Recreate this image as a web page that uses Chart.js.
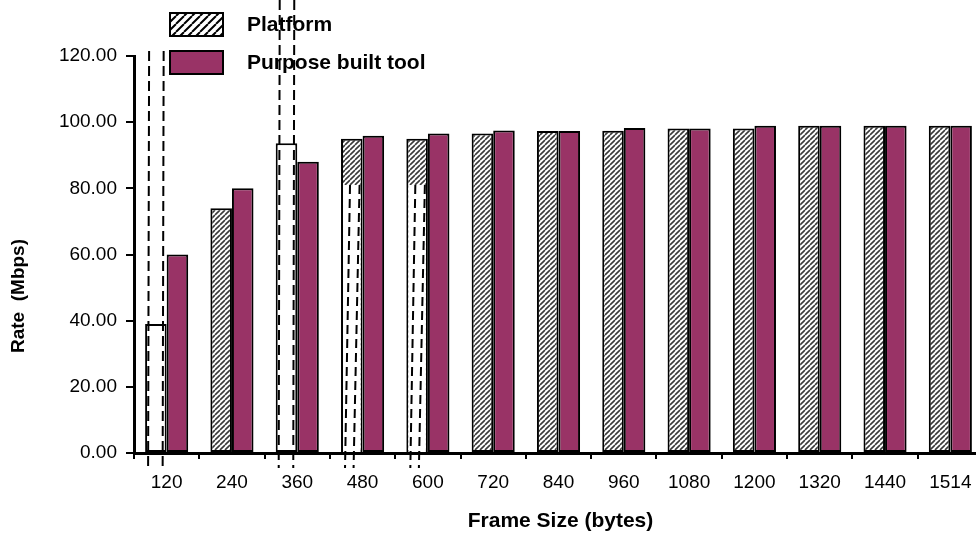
<!DOCTYPE html>
<html>
<head>
<meta charset="utf-8">
<title>Rate vs Frame Size</title>
<script src="https://cdn.jsdelivr.net/npm/chart.js@4.4.1/dist/chart.umd.min.js"></script>
<style>
  html, body { margin: 0; padding: 0; background: #fff; overflow: hidden; }
  canvas { display: block; }
</style>
</head>
<body>
<canvas id="rateChart" width="984" height="534"></canvas>
<script>
// Data
const frameSizes = ['120', '240', '360', '480', '600', '720', '840', '960', '1080', '1200', '1320', '1440', '1514'];
const platformRates = [39.0, 74.0, 93.6, 95.0, 95.0, 96.6, 97.3, 97.4, 98.1, 98.1, 98.9, 98.9, 98.9];
const toolRates = [60.0, 80.0, 88.0, 95.9, 96.6, 97.5, 97.3, 98.2, 98.1, 98.9, 98.9, 98.9, 98.9];
const yTickValues = [0, 20, 40, 60, 80, 100, 120];
const seriesNames = ['Platform', 'Purpose built tool'];
const axisTitles = { x: 'Frame Size (bytes)', y: 'Rate  (Mbps)' };

const TOOL_COLOR = '#993366';
const FONT = '"Liberation Sans", Arial, sans-serif';

Chart.defaults.font.family = FONT;
Chart.defaults.color = '#000';

const canvas = document.getElementById('rateChart');
const ctx = canvas.getContext('2d');

// diagonal "/" hatch tile
function makeHatch(step, lineWidth, color) {
  const tile = document.createElement('canvas');
  tile.width = step;
  tile.height = step;
  const g = tile.getContext('2d');
  g.fillStyle = '#fff';
  g.fillRect(0, 0, step, step);
  g.strokeStyle = color;
  g.lineWidth = lineWidth;
  g.beginPath();
  for (let k = -1; k <= 1; k++) {
    g.moveTo(k * step, step);
    g.lineTo(k * step + step, 0);
  }
  g.stroke();
  return ctx.createPattern(tile, 'repeat');
}

const barHatch = makeHatch(5, 1.6, '#3a3a3a');
const legendHatch = makeHatch(8, 2, '#000');

// the original scan has a few bars that lost their hatch (white with dashed streaks)
const streakBars = [0, 2];
const halfStreakBars = [3, 4];
const halfStreakCut = 81;
const platformFills = frameSizes.map((_, i) => (streakBars.includes(i) ? '#fff' : barHatch));

const legendPlugin = {
  id: 'cornerLegend',
  afterDraw(chart) {
    const c = chart.ctx;
    const left = chart.chartArea.left + 36;
    const rows = [13, 51];
    const fills = [legendHatch, TOOL_COLOR];
    c.save();
    c.font = 'bold 21px ' + FONT;
    c.textBaseline = 'middle';
    seriesNames.forEach((name, i) => {
      c.fillStyle = fills[i];
      c.fillRect(left, rows[i], 53, 23);
      c.strokeStyle = '#000';
      c.lineWidth = 2;
      c.strokeRect(left, rows[i], 53, 23);
      c.fillStyle = '#000';
      c.fillText(name, left + 77, rows[i] + 12);
    });
    c.restore();
  }
};

const titlesPlugin = {
  id: 'axisTitles',
  afterDraw(chart) {
    const c = chart.ctx;
    const area = chart.chartArea;
    c.save();
    c.fillStyle = '#000';
    c.font = 'bold 21px ' + FONT;
    c.textAlign = 'center';
    c.textBaseline = 'middle';
    c.fillText(axisTitles.x, (area.left + area.right) / 2 + 2, 521);
    c.translate(19, area.bottom - 157);
    c.rotate(-Math.PI / 2);
    c.font = 'bold 19px ' + FONT;
    c.fillText(axisTitles.y, 0, 0);
    c.restore();
  }
};

function dashedLine(c, x0, y0, x1, y1) {
  c.beginPath();
  c.moveTo(x0, y0);
  c.lineTo(x1, y1);
  c.stroke();
}

const streakPlugin = {
  id: 'streaks',
  afterDatasetsDraw(chart) {
    const c = chart.ctx;
    const meta = chart.getDatasetMeta(0);
    const yScale = chart.scales.y;
    const bottom = yScale.bottom + 15;
    c.save();
    c.strokeStyle = '#000';
    c.lineWidth = 2;
    streakBars.forEach((idx, n) => {
      const bar = meta.data[idx];
      const l = bar.x - bar.width / 2;
      const r = bar.x + bar.width / 2;
      const top = n === 0 ? yScale.getPixelForValue(121.5) : 0;
      c.setLineDash([10, 5]);
      [l + 3, r - 4].forEach((x) => dashedLine(c, x + 1, top, x, bottom));
    });
    halfStreakBars.forEach((idx) => {
      const bar = meta.data[idx];
      const l = bar.x - bar.width / 2;
      const r = bar.x + bar.width / 2;
      const cut = yScale.getPixelForValue(halfStreakCut);
      c.setLineDash([]);
      c.fillStyle = '#fff';
      c.fillRect(l + 2, cut, r - l - 4, yScale.bottom - cut - 1);
      c.setLineDash([9, 5]);
      dashedLine(c, l + 9, cut, l + 4, bottom);
      dashedLine(c, r - 3, cut, r - 9, bottom);
    });
    c.restore();
  }
};

new Chart(ctx, {
  type: 'bar',
  data: {
    labels: frameSizes,
    datasets: [
      {
        label: seriesNames[0],
        data: platformRates,
        backgroundColor: platformFills,
        borderColor: '#000',
        borderWidth: 2,
        borderSkipped: false,
        categoryPercentage: 0.66,
        barPercentage: 1.0,
      },
      {
        label: seriesNames[1],
        data: toolRates,
        backgroundColor: TOOL_COLOR,
        borderColor: '#000',
        borderWidth: 2,
        borderSkipped: false,
        categoryPercentage: 0.66,
        barPercentage: 1.0,
      },
    ],
  },
  options: {
    responsive: false,
    animation: false,
    layout: { padding: { top: 56, left: 0, right: 1, bottom: 0 } },
    plugins: {
      legend: { display: false },
      tooltip: { enabled: false },
    },
    scales: {
      x: {
        afterFit: (scale) => { scale.height = 81; },
        grid: {
          display: true,
          drawOnChartArea: false,
          drawTicks: true,
          tickLength: 6,
          color: '#000',
          lineWidth: 2,
        },
        border: { display: true, color: '#000', width: 3 },
        ticks: {
          font: { size: 19 },
          color: '#000',
          padding: 12,
          maxRotation: 0,
          autoSkip: false,
        },
      },
      y: {
        min: 0,
        max: 120,
        afterFit: (scale) => { scale.width = 134; },
        afterBuildTicks: (scale) => { scale.ticks = yTickValues.map((v) => ({ value: v })); },
        grid: {
          display: true,
          drawOnChartArea: false,
          drawTicks: true,
          tickLength: 8,
          color: '#000',
          lineWidth: 2,
        },
        border: { display: true, color: '#000', width: 3 },
        ticks: {
          font: { size: 19 },
          color: '#000',
          padding: 9,
          callback: (v) => Number(v).toFixed(2),
        },
      },
    },
  },
  plugins: [streakPlugin, legendPlugin, titlesPlugin],
});
</script>
</body>
</html>
